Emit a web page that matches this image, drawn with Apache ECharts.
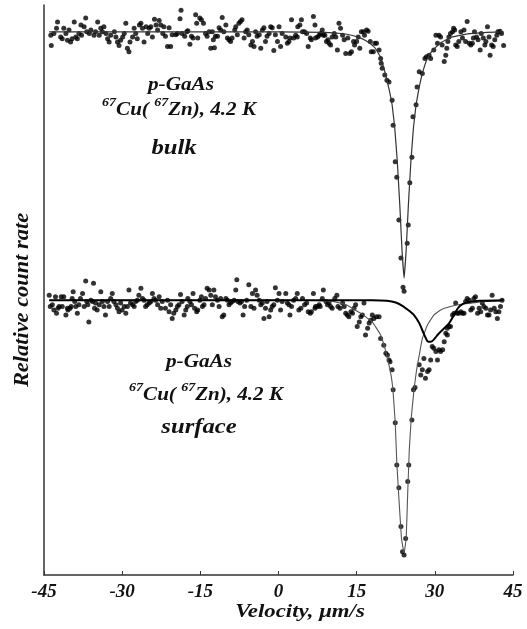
<!DOCTYPE html>
<html>
<head>
<meta charset="utf-8">
<script src="https://cdn.jsdelivr.net/npm/echarts@6/dist/echarts.min.js"></script>
<style>html,body{margin:0;padding:0;background:#fff}#c{width:527px;height:629px}</style>
</head>
<body>
<div id="c"></div>
<script>
// ---- data (velocity in um/s, relative count rate in arbitrary units) ----
var xTicks = [-45, -30, -15, 0, 15, 30, 45];
var yRange = [0, 100];

var bulkPoints = [
[-43.7,94.7],[-43.6,92.9],[-43.1,95.0],[-42.4,97.0],[-42.6,95.9],[-41.8,94.4],[-41.5,94.1],[-41.2,95.9],[-40.8,95.0],[-40.5,93.8],[-40.2,95.6],[-39.9,93.5],[-39.6,94.1],[-39.2,97.0],[-38.9,94.4],[-38.6,94.1],[-38.3,95.0],[-37.9,96.5],[-37.8,94.7],[-37.3,96.2],[-37.0,97.7],[-36.8,95.3],[-36.3,95.0],[-36.0,95.6],[-35.4,94.7],[-35.1,95.3],[-34.7,97.0],[-34.4,94.7],[-34.1,95.9],[-33.8,95.3],[-33.5,96.2],[-33.1,95.0],[-32.8,94.1],[-32.5,93.5],[-32.2,94.7],[-31.5,95.3],[-31.2,94.4],[-30.9,93.5],[-30.6,92.9],[-30.3,93.8],[-29.9,94.4],[-29.6,95.0],[-29.3,96.8],[-29.0,92.4],[-28.7,91.8],[-28.5,93.5],[-28.0,94.4],[-27.7,95.9],[-27.4,95.0],[-27.1,94.1],[-26.7,96.5],[-26.4,96.8],[-26.1,95.9],[-25.8,93.5],[-25.4,96.2],[-25.1,95.0],[-24.8,95.9],[-24.5,96.2],[-24.2,94.4],[-23.8,97.5],[-23.5,96.5],[-23.2,95.6],[-22.9,97.3],[-22.6,96.5],[-22.2,95.0],
[-22.0,96.2],[-21.7,94.5],[-21.3,92.7],[-21.0,96.0],[-20.7,92.7],[-20.4,94.8],[-19.7,94.8],[-19.4,95.0],[-18.9,97.6],[-18.7,99.1],[-18.5,95.0],[-18.0,94.5],[-17.6,95.3],[-17.4,95.5],[-17.0,93.1],[-16.7,94.5],[-16.4,94.2],[-15.9,98.3],[-15.7,96.8],[-15.5,94.2],[-15.1,97.7],[-14.8,97.4],[-14.4,96.8],[-14.0,95.0],[-13.7,94.5],[-13.3,95.3],[-13.0,92.4],[-12.7,95.3],[-12.5,93.9],[-12.3,92.5],[-12.1,94.5],[-11.7,94.5],[-11.4,96.0],[-11.1,95.6],[-10.8,97.8],[-10.5,95.3],[-10.1,96.5],[-9.8,94.2],[-9.5,93.9],[-9.2,93.6],[-8.9,94.2],[-8.4,95.6],[-8.2,96.2],[-7.9,94.8],[-7.6,96.8],[-7.3,97.1],[-7.0,97.4],[-6.6,94.2],[-6.3,95.3],[-6.0,95.6],[-5.7,94.8],[-5.3,93.0],[-5.0,93.6],[-4.7,92.7],[-4.4,95.3],[-4.1,94.5],[-3.7,94.8],[-3.4,92.4],[-3.1,95.6],[-2.8,96.0],[-2.5,93.6],[-2.2,94.5],[-1.8,95.0],[-1.5,96.2],[-1.2,96.0],[-0.9,92.0],[-0.6,94.8],[-0.2,93.6],[0.1,96.2],[0.4,92.7],[0.7,95.0],
[1.4,94.4],[1.7,93.3],[2.0,93.6],[2.2,94.2],[2.5,97.4],[2.9,94.2],[3.3,94.7],[3.6,94.4],[3.7,96.2],[4.1,96.5],[4.4,97.4],[4.6,95.3],[5.0,95.3],[5.4,95.0],[5.7,92.7],[6.1,94.2],[6.3,93.9],[6.7,98.0],[7.0,96.5],[7.1,94.2],[7.5,94.4],[7.8,94.7],[8.1,95.0],[8.4,95.6],[8.6,94.7],[8.9,94.7],[9.2,93.6],[9.5,93.9],[9.7,93.3],[10.0,93.0],[10.3,94.4],[10.7,95.0],[11.0,94.4],[11.3,92.1],[11.6,96.8],[11.9,95.9],[12.3,94.7],[12.6,93.9],[12.9,91.5],[13.3,94.2],[13.7,91.5],[14.0,91.8],[14.4,93.6],[14.6,93.0],[15.0,93.6],[15.3,94.4],[15.6,92.4],[15.9,95.3],[16.3,95.3],[16.5,94.7],[16.9,95.6],[17.2,95.4],[17.6,93.6],[17.8,91.8],[18.2,91.8],[18.5,93.3],[18.8,93.3],[19.3,92.1],[19.6,90.6],[19.7,89.8],[19.9,88.9],[20.4,87.7],[20.8,86.8],[21.2,86.5],
[21.8,83.3],[22.0,78.9],[22.4,72.5],[22.7,69.8],[23.1,62.3],[23.5,55.6],[23.9,50.5],[24.1,49.8],[24.7,58.2],[24.9,61.4],[25.2,68.8],[25.6,73.3],[25.8,80.4],[26.4,82.5],[26.6,85.6],
[27.0,88.3],[27.6,88.0],[28.1,90.6],[28.4,90.9],[28.9,91.2],[29.2,90.6],[29.8,92.1],[30.2,94.7],[30.5,93.3],[30.8,94.7],[31.1,94.4],[31.4,93.0],[31.8,90.1],[32.1,91.2],[32.3,92.4],[32.5,93.6],[32.7,94.4],[33.0,95.0],[33.4,95.3],[33.6,95.9],[33.8,95.6],[34.0,93.0],[34.3,92.7],[34.6,93.6],[35.0,95.3],[35.3,94.2],[35.6,95.6],[35.9,93.6],[36.2,97.1],[36.6,93.3],[36.9,93.0],[37.2,93.3],[37.4,94.2],[37.6,95.3],[38.0,94.4],[38.3,93.9],[38.7,92.1],[38.9,95.0],[39.3,94.2],[39.6,93.0],[39.8,93.6],[40.1,96.2],[40.4,94.4],[40.6,91.2],[40.9,93.0],[41.2,92.7],[41.5,93.9],[41.9,94.7],[42.1,95.3],[42.5,95.4],[42.8,95.0],[43.2,92.9]
];

var bulkFit = [
[-44.0,95.3],[0,95.3],[9,95.2],[12,95.0],[14,94.7],[16,94.1],[17.5,93.3],[18.5,92.5],[19.5,91.0],[20.5,88.0],[21.2,85.3],[21.8,82.5],[22.3,78.5],[22.8,72.5],[23.3,64.5],[23.7,57.0],[24.1,52.1],[24.5,57.0],[24.9,64.5],[25.4,72.5],[25.9,78.5],[26.4,82.5],[27.0,85.6],[27.7,88.3],[28.5,90.5],[29.5,92.0],[31,93.3],[33,94.3],[36,94.9],[40,95.2],[43.2,95.3]
];

var surfacePoints = [
[-44.0,49.1],[-43.8,47.1],[-43.4,47.4],[-43.1,46.5],[-42.8,48.8],[-42.6,45.9],[-42.3,46.8],[-42.1,47.1],[-41.7,48.8],[-41.5,47.1],[-41.2,48.8],[-40.8,45.6],[-40.5,46.8],[-40.4,46.5],[-40.0,46.8],[-39.8,47.1],[-39.6,48.5],[-39.4,49.7],[-39.1,48.0],[-38.9,47.1],[-38.6,45.9],[-38.3,47.4],[-38.0,48.5],[-37.6,49.4],[-37.3,47.1],[-37.0,51.6],[-36.8,48.0],[-36.6,47.4],[-36.4,44.4],[-36.0,48.2],[-35.7,48.0],[-35.5,51.2],[-35.3,46.8],[-35.1,47.7],[-34.8,46.5],[-34.4,47.4],[-34.1,49.7],[-33.8,48.0],[-33.5,47.1],[-33.2,45.6],[-32.8,48.0],[-32.5,47.1],[-32.2,48.5],[-31.9,49.4],[-31.6,48.0],[-31.2,47.4],[-30.9,46.8],[-30.6,46.2],[-30.3,47.7],[-30.0,46.5],[-29.6,47.1],[-29.3,45.9],[-29.0,47.1],[-28.7,50.0],[-28.4,47.7],[-28.0,47.4],[-27.7,47.1],[-27.4,48.0],[-27.1,48.2],[-26.8,49.1],[-26.4,50.3],[-26.1,48.5],[-25.8,48.2],[-25.5,47.1],[-25.2,47.4],[-24.8,47.7],[-24.5,48.0],[-24.2,49.4],[-23.9,48.5],[-23.6,48.2],[-23.2,47.4],[-22.9,48.8],[-22.6,46.8],[-22.3,48.0],
[-21.7,46.8],[-21.3,48.2],[-21.0,46.2],[-20.7,47.4],[-20.4,45.0],[-20.1,45.9],[-19.7,46.5],[-19.4,47.1],[-19.1,47.4],[-18.8,49.2],[-18.5,48.0],[-18.1,45.6],[-17.8,46.5],[-17.5,47.1],[-17.4,48.5],[-17.0,48.0],[-16.7,47.4],[-16.4,49.4],[-16.1,46.8],[-15.7,46.2],[-15.5,46.5],[-15.1,48.2],[-14.8,48.8],[-14.6,47.1],[-14.3,47.4],[-14.0,48.5],[-13.7,50.3],[-13.3,50.0],[-13.0,49.1],[-12.7,47.4],[-12.4,50.0],[-12.1,48.8],[-11.7,48.2],[-11.4,47.1],[-11.1,48.5],[-10.8,45.3],[-10.5,45.6],[-10.1,48.5],[-9.8,48.2],[-9.5,47.4],[-9.2,47.7],[-8.9,48.0],[-8.5,48.2],[-8.2,50.0],[-8.0,51.8],[-7.8,48.0],[-7.4,47.7],[-7.1,48.0],[-6.8,45.6],[-6.5,47.1],[-6.1,48.2],[-5.7,50.9],[-5.3,47.1],[-5.0,49.4],[-4.7,46.8],[-4.4,50.0],[-4.1,49.1],[-3.7,48.2],[-3.4,47.4],[-3.1,47.7],[-2.8,45.0],[-2.5,46.8],[-2.2,48.0],[-1.8,45.3],[-1.5,46.5],[-1.2,47.1],[-0.9,47.4],[-0.6,50.4],[-0.2,48.2],[0.1,49.4],[0.4,46.5],[0.7,48.0],
[1.4,49.4],[1.7,47.7],[2.0,47.4],[2.2,45.6],[2.5,47.1],[2.9,48.2],[3.3,48.5],[3.6,49.4],[3.9,46.5],[4.3,46.8],[4.6,48.5],[5.0,47.4],[5.4,47.7],[5.7,46.2],[6.1,45.9],[6.3,46.2],[6.7,49.4],[7.0,46.8],[7.1,47.1],[7.5,47.1],[7.8,47.4],[8.0,47.1],[8.4,48.5],[8.6,50.0],[9.1,48.0],[9.4,47.4],[9.7,47.7],[10.0,47.1],[10.3,46.8],[10.8,48.5],[11.2,49.1],[11.4,47.1],[11.8,46.8],[12.3,47.7],[12.6,47.1],[12.9,45.9],[13.2,45.6],[13.5,45.3],[13.9,46.2],[14.2,45.9],[14.5,46.8],[14.8,47.4],[15.1,43.6],[15.5,44.4],[15.8,45.3],[16.1,45.6],[16.4,47.7],[16.7,42.1],[17.1,43.3],[17.4,44.2],[17.7,44.7],[18.0,45.6],[18.3,45.0],[18.8,45.3],[19.3,45.3],[19.6,41.5],[20.2,40.3],[20.6,38.9],[20.9,38.6],[21.2,37.7],
[21.4,37.4],[21.8,36.0],[22.0,32.5],[22.4,26.7],[22.7,19.3],[23.1,15.3],[23.5,8.5],[23.8,4.1],[24.1,3.5],[24.4,6.4],[24.8,16.4],[25.0,19.3],[25.6,27.2],[25.9,32.5],[26.2,32.9],
[27.0,36.9],[27.3,35.1],[27.6,36.0],[27.9,38.0],[28.2,34.5],[28.6,35.7],[28.9,36.0],[29.2,37.7],[29.5,40.1],[29.8,39.8],[30.2,39.2],[30.5,37.7],[30.8,39.5],[31.1,39.2],[31.5,39.5],[31.8,40.9],[32.1,42.4],[32.4,42.1],[32.4,43.3],[32.7,43.6],[33.0,43.6],[33.4,45.6],[33.7,45.9],[34.0,47.7],[34.3,45.9],[34.6,45.9],[35.0,46.2],[35.3,45.9],[35.6,45.9],[35.9,48.0],[36.2,48.5],[36.6,48.2],[36.9,46.5],[37.2,46.8],[37.5,48.5],[37.8,48.8],[38.2,45.9],[38.5,46.8],[38.8,46.2],[39.1,47.7],[39.4,47.1],[39.8,46.8],[40.1,45.6],[40.4,45.6],[40.7,46.5],[41.0,49.1],[41.4,46.8],[41.7,46.2],[42.0,45.0],[42.3,46.2],[42.6,47.1],[42.9,48.2]
];

var surfaceMainFit = [
[-44.0,48.2],[5,48.2],[10.5,48.0],[13,47.4],[15.8,45.9],[18.0,44.4],[19.6,42.1],[20.6,39.2],[21.2,36.8],[21.7,34.5],[22.0,32.0],[22.4,26.7],[22.7,19.8],[23.1,13.5],[23.6,6.4],[24.1,3.8],[24.5,6.4],[24.8,14.5],[25.1,22.0],[25.5,27.8],[26.0,32.5],[26.5,36.0],[27.0,38.5],[27.6,41.5],[28.6,43.9],[29.8,45.6],[31.1,46.5],[33,47.1],[35,47.5],[37,47.7],[39.5,48.0],[43.2,48.1]
];

var surfaceSecondFit = [
[-44.0,48.2],[18,48.2],[20.8,48.1],[22.5,47.8],[24.0,47.1],[25.0,46.4],[26.0,45.6],[27.0,44.2],[27.9,42.3],[28.6,41.0],[29.2,40.9],[29.8,41.3],[30.6,42.2],[31.6,43.1],[32.6,44.0],[33.3,45.0],[34.0,46.2],[34.8,47.2],[36.1,47.8],[38.5,48.1],[43.2,48.2]
];

var labelsBulk = ['p-GaAs', '67', 'Cu(', '67', 'Zn), 4.2 K', 'bulk'];
var labelsSurface = ['p-GaAs', '67', 'Cu(', '67', 'Zn), 4.2 K', 'surface'];
var yTitle = 'Relative count rate';
var xTitle = 'Velocity, \u03bcm/s';

// ---- chart ----
var FF = '"Liberation Serif", "Times New Roman", serif';
function txtStyle(size) {
  return { fontFamily: FF, fontWeight: 'bold', fontStyle: 'italic', fontSize: size, fill: '#111' };
}
function compound(l) {
  return '{s|' + l[1] + '}{m|' + l[2] + ' }{s|' + l[3] + '}{m|' + l[4] + '}';
}
var richDef = {
  m: { fontFamily: FF, fontWeight: 'bold', fontStyle: 'italic', fontSize: 18, lineHeight: 22, verticalAlign: 'bottom', color: '#111' },
  s: { fontFamily: FF, fontWeight: 'bold', fontStyle: 'italic', fontSize: 12, lineHeight: 22, verticalAlign: 'top', color: '#111' }
};
function label(x, y, text, size, sx) {
  return { type: 'text', x: x, y: y, scaleX: sx, style: Object.assign(txtStyle(size), { text: text, align: 'center', verticalAlign: 'middle' }) };
}
function richLabel(x, y, text) {
  return { type: 'text', x: x, y: y, scaleX: 1.17, style: { text: text, align: 'center', verticalAlign: 'middle', rich: richDef, fill: '#111' } };
}

var chart = echarts.init(document.getElementById('c'), null, { renderer: 'canvas' });
chart.setOption({
  animation: false,
  backgroundColor: '#fff',
  grid: { left: 44, right: 14, top: 5, bottom: 54 },
  xAxis: {
    type: 'value', min: xTicks[0], max: xTicks[xTicks.length - 1], interval: xTicks[1] - xTicks[0],
    axisLine: { onZero: false, lineStyle: { color: '#333', width: 1.5 } },
    axisTick: { inside: true, length: 4, lineStyle: { color: '#333' } },
    splitLine: { show: false },
    axisLabel: { fontFamily: FF, fontWeight: 'bold', fontStyle: 'italic', fontSize: 19, color: '#111', margin: 8 }
  },
  yAxis: {
    type: 'value', min: yRange[0], max: yRange[1],
    axisLine: { show: true, onZero: false, lineStyle: { color: '#333', width: 1.5 } },
    axisTick: { show: false }, axisLabel: { show: false }, splitLine: { show: false }
  },
  graphic: [
    label(181, 85, labelsBulk[0], 18, 1.18),
    richLabel(179, 108, compound(labelsBulk)),
    label(174, 148, labelsBulk[5], 22, 1.12),
    label(199, 362, labelsSurface[0], 18, 1.18),
    richLabel(206, 393, compound(labelsSurface)),
    label(199, 427, labelsSurface[5], 22, 1.12),
    { type: 'text', x: 23, y: 300, rotation: Math.PI / 2, scaleX: 1.12,
      style: Object.assign(txtStyle(20), { text: yTitle, align: 'center', verticalAlign: 'middle' }) },
    label(300, 612, xTitle, 19, 1.2)
  ],
  series: [
    { type: 'scatter', data: bulkPoints, symbol: 'circle', symbolSize: 5, itemStyle: { color: '#000' }, z: 2 },
    { type: 'scatter', data: surfacePoints, symbol: 'circle', symbolSize: 5, itemStyle: { color: '#000' }, z: 2 },
    { type: 'line', data: bulkFit, showSymbol: false, smooth: 0.08, lineStyle: { color: '#333', width: 1.2 }, z: 3 },
    { type: 'line', data: surfaceMainFit, showSymbol: false, smooth: 0.08, lineStyle: { color: '#555', width: 1.1 }, z: 3 },
    { type: 'line', data: surfaceSecondFit, showSymbol: false, smooth: 0.2, lineStyle: { color: '#000', width: 2 }, z: 4 }
  ]
});
</script>
</body>
</html>
